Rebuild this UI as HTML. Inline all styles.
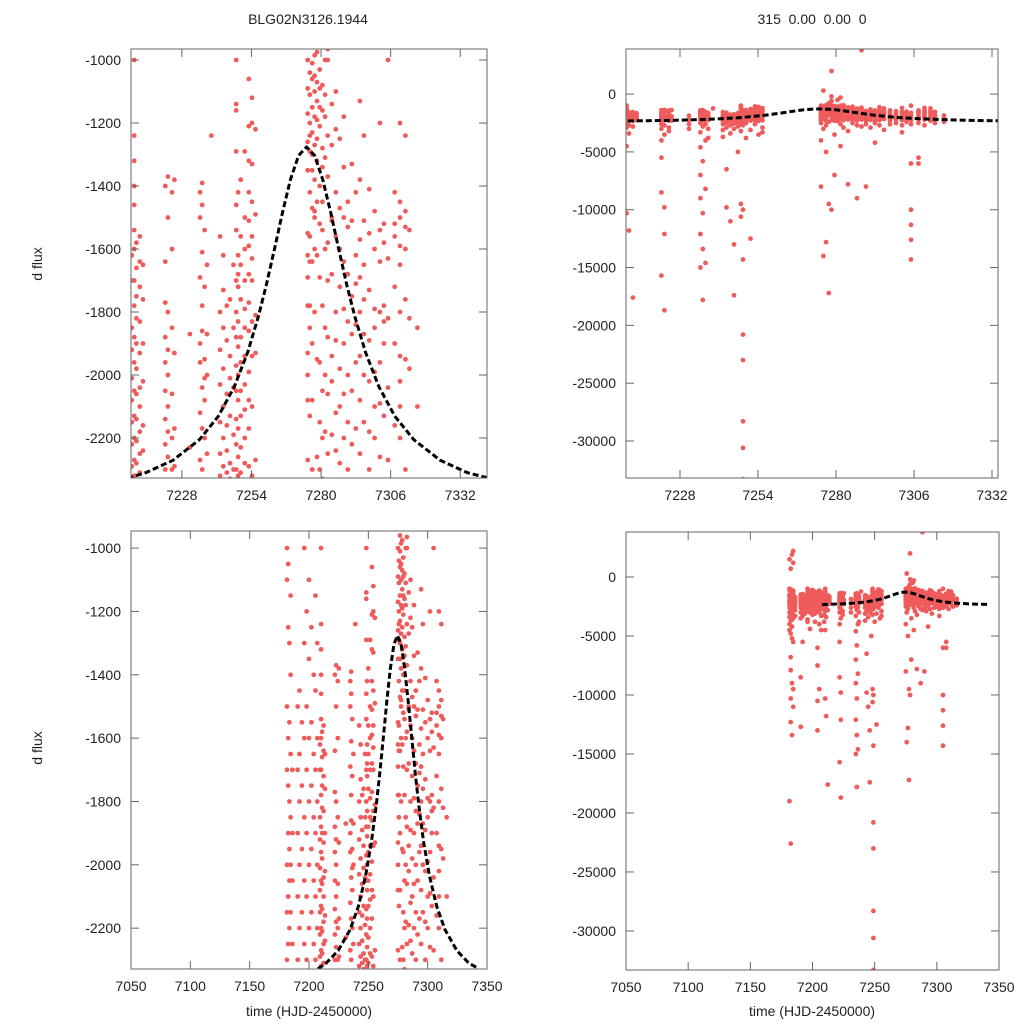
<!DOCTYPE html>
<html><head><meta charset="utf-8"><style>
html,body{margin:0;padding:0;background:#fff;width:1024px;height:1024px;overflow:hidden;}
svg{display:block;font-family:"Liberation Sans",sans-serif;}
</style></head><body>
<svg id="chart" width="1024" height="1024" viewBox="0 0 1024 1024" xmlns="http://www.w3.org/2000/svg">
<rect width="1024" height="1024" fill="#fff"/>
<text x="308" y="24" font-size="14" text-anchor="middle" fill="#222">BLG02N3126.1944</text>
<text x="812" y="24" font-size="14" text-anchor="middle" fill="#222" xml:space="preserve">315  0.00  0.00  0</text>
<text transform="translate(42,264) rotate(-90)" font-size="14" text-anchor="middle" fill="#222">d flux</text>
<text transform="translate(42,748) rotate(-90)" font-size="14" text-anchor="middle" fill="#222">d flux</text>
<text x="309" y="1016" font-size="14" text-anchor="middle" fill="#222">time (HJD-2450000)</text>
<text x="812" y="1016" font-size="14" text-anchor="middle" fill="#222">time (HJD-2450000)</text>
</svg>
<script>
const nightTimes = [7181.5,7182.5,7183.5,7184.5,7186,7190.5,7192,7194,7196,7198,7200,7202,7204,7205.5,7207,
7209.3,7210.2,7211,7212.3,7213.5,7221.8,7222.8,7224.3,7225.2,7231,7234.8,7235.6,7236.5,7237.4,7239,
7242.3,7243.5,7244.8,7246,7247.3,7248.3,7249,7250,7251.5,7253,7254.2,7255.5,
7275,7275.8,7276.7,7277.6,7278.5,7279.5,7280.5,7281.5,7282.5,7284,7285.5,7287,7288.5,7290,7291.5,7293,7294.5,7296,7298,7300,7302,7303.5,7305,7307.5,7309.5,7311.5,7313,7316];
const nightFluxes = [
[-1000,-1100,-1500,-1700,-2000,-2150,-2300,-2600,-3000,-3400,-4000,-4500,1500,-19000],
[-1050,-1250,-1600,-1750,-1900,-2100,-2250,-2500,-2800,-3300,-3700,-4800,-6800,-7900,-10300,-12300,-22600,700],
[-1300,-1550,-1800,-1950,-2050,-2200,-2400,-2700,-3100,-3600,-4200,-5200,-9000,-13400,1900],
[-1150,-1400,-1650,-1850,-2000,-2150,-2350,-2550,-2900,-3500,-9500,-11000,-5500,2200,1200],
[-1700,-1900,-2050,-2250,-2450,-2800,-3300],
[-1500,-1700,-1900,-2100,-2300,-2600,-3000,-3500,-12700,-8500],
[-1450,-1650,-1800,-2000,-2200,-2450,-2800,-3300,-5500],
[-1550,-1750,-1950,-2150,-2400,-2700,-3100],
[-1000,-1300,-1600,-1850,-2050,-2250,-2500,-2900,-3600,-3800],
[-1200,-1500,-1700,-1900,-2100,-2300,-2600,-3000,-4400],
[-1100,-1350,-1600,-1800,-2000,-2200,-2450,-2800,-3200],
[-1250,-1550,-1750,-1950,-2150,-2350,-2650,-3100,-3800],
[-1400,-1650,-1850,-2050,-2250,-2500,-2900,-6000,-7500,-10500,-13000],
[-1150,-1450,-1700,-1900,-2100,-2300,-2550,-3000,-9500,-4000],
[-1300,-1600,-1800,-2000,-2200,-2400,-2700,-3300,-4500],
[-1620,-1700,-1850,-1920,-2010,-2080,-2150,-2220,-2290,-2600,-3200,-3800],
[-1000,-1240,-1320,-1400,-1460,-1540,-1600,-1700,-1780,-1880,-1960,-2050,-2130,-2200,-2270,-2320,-2500,-2900,-4500,-10300],
[-1580,-1660,-1750,-1820,-1900,-1980,-2060,-2140,-2210,-2280,-2700,-3400,-11800],
[-1560,-1640,-1720,-1830,-1930,-2040,-2100,-2180,-2250,-2310,-2800,-17600],
[-1650,-1760,-1900,-2020,-2160,-2240],
[-1400,-1640,-1770,-1880,-1960,-2050,-2140,-2220,-2300,-2600,-3000,-4000,-5500,-8500,-15700],
[-1370,-1500,-1800,-1920,-2000,-2100,-2180,-2260,-2700,-3500,-9800,-12100,-18700],
[-1420,-1600,-1850,-2060,-2200,-2300,-2900,-3200],
[-1380,-1930,-2170,-2290],
[-1870,-2230,-2600,-3000],
[-1420,-1500,-1690,-1900,-1960,-2120,-2270,-2500,-3300,-4600,-7000,-9000,-12100,-15000],
[-1390,-1460,-1610,-1780,-1860,-2040,-2170,-2300,-2800,-5800,-10300,-13400,-17800],
[-1540,-1720,-1950,-2010,-2080,-2200,-2600,-4000,-8200,-14600],
[-1650,-1870,-2000,-2250,-3000,-3800],
[-1240],
[-1560,-1800,-1920,-2030,-2150,-2250,-2320,-2600,-3100,-3700],
[-1620,-1730,-1850,-1980,-2100,-2200,-2290,-2500,-2900,-6500,-9800],
[-1780,-1890,-2060,-2160,-2240,-2310,-2700,-3400,-11000],
[-1760,-1940,-2010,-2130,-2280,-2330,-2550,-3000,-13000,-17400],
[-1650,-1850,-2040,-2190,-2300,-2450,-2800,-5000],
[-1000,-1140,-1160,-1290,-1460,-1540,-1700,-1800,-1880,-1970,-2050,-2140,-2220,-2300,-2600,-3200,-9500,-10600],
[-1420,-1620,-1680,-1720,-1830,-1910,-2000,-2080,-2170,-2260,-2320,-2700,-10000,-14300,-20800,-23000,-28300,-30600,-33300],
[-1380,-1560,-1650,-1760,-1880,-1960,-2050,-2130,-2230,-2310,-2500,-3800],
[-1290,-1500,-1600,-1700,-1790,-1850,-1940,-2030,-2110,-2200,-2280,-3100,-12500],
[-1060,-1210,-1320,-1420,-1510,-1590,-1680,-1770,-1860,-1990,-2080,-2170,-2290,-2600],
[-1120,-1200,-1330,-1450,-1560,-1630,-1700,-1830,-1940,-2100,-2320,-3500],
[-1220,-1490,-1810,-1930,-2270,-2900,-3300],
[-1000,-1090,-1170,-1260,-1350,-1550,-1620,-1690,-1780,-1930,-2000,-2080,-2270,-2500,-4000,-8000],
[-1040,-1110,-1200,-1240,-1290,-1420,-1560,-1640,-1780,-1850,-2130,-3000,-14000,300],
[-960,-1010,-1060,-1150,-1230,-1300,-1350,-1470,-1640,-2080,-1900,-2300,-2700,-5000,-12800],
[-985,-1050,-1100,-1180,-1270,-1380,-1480,-1600,-1800,-2400,-800,-1500,-9500,-17200],
[-975,-1070,-1130,-1190,-1250,-1320,-1450,-1620,-1950,-2260,-600,-200,2000,-10000],
[-1030,-1090,-1150,-1210,-1400,-1520,-1690,-1960,-2150,-2300,-3500,-7000],
[-1080,-1160,-1280,-1340,-1450,-1540,-1780,-2050,-2200,-2330,-500],
[-1110,-1180,-1310,-1600,-1850,-2000,-2180,-2600,-1000,-300,-4500],
[-965,-1000,-1240,-1370,-1580,-1700,-1880,-2060,-2250,-2900],
[-1140,-1270,-1510,-1680,-1940,-2020,-2190,-3200,-7800,-1500],
[-1100,-1220,-1420,-1560,-1800,-1890,-2120,-2240,-2500],
[-1250,-1470,-1600,-1720,-1980,-2100,-2280,-2700,-9000],
[-1180,-1340,-1500,-1640,-1790,-1900,-2060,-2200,3800,-2800],
[-1450,-1530,-1680,-1830,-2000,-2150,-2300,-2600,-8000],
[-1330,-1510,-1750,-1870,-2050,-2220,-2900],
[-1420,-1620,-1710,-1840,-1960,-2170,-2340,-2500,-4200],
[-1130,-1380,-1570,-1690,-1800,-1940,-2080,-2250,-2700],
[-1240,-1510,-1650,-1760,-1870,-2000,-2150,-3100],
[-1410,-1550,-1730,-1890,-2020,-2180,-2300,-2600],
[-1480,-1600,-1790,-1850,-1990,-2100,-2200,-2500],
[-1200,-1540,-1640,-1800,-1960,-2090,-2260,-2700,-3300],
[-1520,-1580,-1780,-1830,-1900,-2130,-2400],
[-1000,-1630,-1820,-2040,-2270,-2600,-6000,-10000,-11300,-12600,-14300],
[-1420,-1520,-1560,-1720,-1900,-2160,-2500,-6000,-5500],
[-1200,-1450,-1500,-1590,-1650,-1800,-1940,-2020,-2100,-2200,-2700],
[-1240,-1480,-1530,-1600,-1760,-1950,-2300],
[-1540,-1820,-1980,-2500],
[-1850,-2100,-2400]
];
const modelTimes = [7207.6,7214.6,7224.6,7234.6,7241.6,7247.6,7252.6,7256.6,7259.6,7262.6,7265.6,7268.6,7271.6,7274.6,7277.6,7280.6,7283.6,7286.6,7289.6,7292.6,7296.6,7301.6,7307.6,7314.6,7324.6,7334.6,7342];
const modelFluxes = [-2328,-2310,-2271,-2205,-2131,-2037,-1928,-1814,-1713,-1600,-1484,-1379,-1303,-1276,-1303,-1379,-1484,-1600,-1713,-1814,-1928,-2037,-2131,-2205,-2271,-2310,-2326];
const leftYTicks = [-1000,-1200,-1400,-1600,-1800,-2000,-2200];
const rightYTicks = [0,-5000,-10000,-15000,-20000,-25000,-30000];
const topXTicks = [7228,7254,7280,7306,7332];
const bottomXTicks = [7050,7100,7150,7200,7250,7300,7350];

const panels = [
 {name:'top-left',x0:131,x1:487,y0:49,y1:478,t0:7209,t1:7342,f0:-965,f1:-2327,yt:leftYTicks,xt:topXTicks},
 {name:'top-right',x0:626,x1:998,y0:49,y1:478,t0:7210,t1:7334,f0:3900,f1:-33200,yt:rightYTicks,xt:topXTicks},
 {name:'bottom-left',x0:131,x1:487,y0:531,y1:969,t0:7050,t1:7350,f0:-946,f1:-2329,yt:leftYTicks,xt:bottomXTicks},
 {name:'bottom-right',x0:626,x1:999,y0:532,y1:970,t0:7050,t1:7350,f0:3814,f1:-33310,yt:rightYTicks,xt:bottomXTicks}
];
const NS='http://www.w3.org/2000/svg';
const svg=document.getElementById('chart');
function mk(tag,attrs,parent){const e=document.createElementNS(NS,tag);for(const k in attrs)e.setAttribute(k,attrs[k]);(parent||svg).appendChild(e);return e;}
panels.forEach((p,pi)=>{
 const xs=t=>p.x0+(t-p.t0)/(p.t1-p.t0)*(p.x1-p.x0);
 const ys=f=>p.y0+(p.f0-f)/(p.f0-p.f1)*(p.y1-p.y0);
 const g=mk('g',{});
 
 
 const cp=mk('clipPath',{id:'clip'+pi},g);
 mk('rect',{x:p.x0,y:p.y0,width:p.x1-p.x0,height:p.y1-p.y0},cp);
 const pts=mk('g',{'clip-path':'url(#clip'+pi+')',fill:'#ef5b5b'},g);
 
 
 nightTimes.forEach((t,i)=>{
  nightFluxes[i].forEach(f=>{
   const c=mk('circle',{cx:xs(t).toFixed(1),cy:ys(f).toFixed(1),r:2.4},pts);
   
   
  });
 });
 const d=modelTimes.map((t,i)=>(i?'L':'M')+xs(t).toFixed(1)+','+ys(modelFluxes[i]).toFixed(1)).join('');
 const ml=mk('path',{d:d,fill:'none',stroke:'#000','stroke-width':3,'stroke-dasharray':'6,3','stroke-linejoin':'round','clip-path':'url(#clip'+pi+')'},g);
 
 
 const fr=mk('rect',{x:p.x0,y:p.y0,width:p.x1-p.x0,height:p.y1-p.y0,fill:'none',stroke:'#666','stroke-width':1},g);
 
 
 p.yt.forEach(v=>{
  const y=ys(v);
  mk('line',{x1:p.x0,x2:p.x0+8,y1:y,y2:y,stroke:'#666'},g);
  mk('line',{x1:p.x1-8,x2:p.x1,y1:y,y2:y,stroke:'#666'},g);
  const tx=mk('text',{x:p.x0-10,y:y+5,'font-size':14,'text-anchor':'end',fill:'#222'},g);
  tx.textContent=v;
  
  
 });
 p.xt.forEach(v=>{
  const x=xs(v);
  mk('line',{x1:x,x2:x,y1:p.y1,y2:p.y1-8,stroke:'#666'},g);
  mk('line',{x1:x,x2:x,y1:p.y0,y2:p.y0+8,stroke:'#666'},g);
  const tx=mk('text',{x:x,y:p.y1+22,'font-size':14,'text-anchor':'middle',fill:'#222'},g);
  tx.textContent=v;
  
  
 });
});
</script>
</body></html>
